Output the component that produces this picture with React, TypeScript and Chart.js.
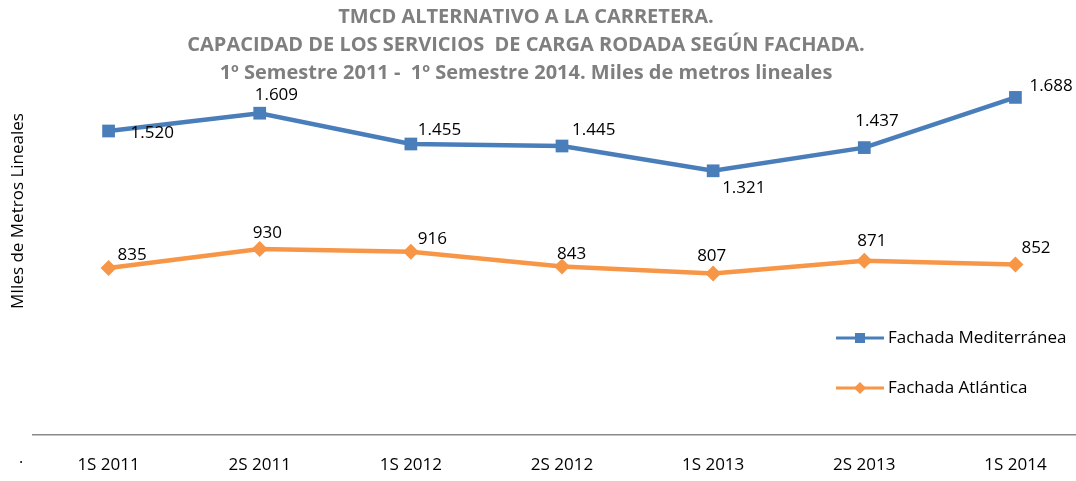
import React, { useEffect, useRef } from "react";
import { Chart, registerables } from "chart.js";

Chart.register(...registerables);

const categories = ["1S 2011", "2S 2011", "1S 2012", "2S 2012", "1S 2013", "2S 2013", "1S 2014"];
const mediterranea = [1520, 1609, 1455, 1445, 1321, 1437, 1688];
const atlantica = [835, 930, 916, 843, 807, 871, 852];
const seriesNames = ["Fachada Mediterránea", "Fachada Atlántica"];
const titleLines = [
  "TMCD ALTERNATIVO A LA CARRETERA.",
  "CAPACIDAD DE LOS SERVICIOS  DE CARGA RODADA SEGÚN FACHADA.",
  "1º Semestre 2011 -  1º Semestre 2014. Miles de metros lineales",
];
const yAxisTitle = "MIles de Metros Lineales";

// label offsets (dx = left edge relative to point, dy = center relative to point)
const medLabelOffsets = [[22, 2], [-5, -18], [7, -14], [10, -16], [9, 17], [-9, -26], [14, -11]];
const atlLabelOffsets = [[9, -13], [-7, -16], [7, -13], [-5, -12], [-16, -17], [-7, -20], [6, -16]];

const BLUE = "#4a7ebb";
const ORANGE = "#f79646";
const FONT = "'Open Sans', sans-serif";

function fmt(v: number) {
  const s = String(v);
  if (v >= 1000) return s.slice(0, s.length - 3) + "." + s.slice(s.length - 3);
  return s;
}

const decorPlugin = {
  id: "decor",
  afterDatasetsDraw(chart: any) {
    const ctx = chart.ctx as CanvasRenderingContext2D;
    const xs = chart.scales.x;
    const ys = chart.scales.y;
    ctx.save();
    // title
    ctx.fillStyle = "#7f7f7f";
    ctx.textAlign = "center";
    ctx.textBaseline = "middle";
    ctx.font = `bold 20px ${FONT}`;
    const tys = [17, 45, 73];
    titleLines.forEach((t, i) => ctx.fillText(t, 526, tys[i]));

    // data labels
    ctx.fillStyle = "#000";
    ctx.font = `17px ${FONT}`;
    ctx.textAlign = "left";
    const drawLabels = (data: number[], offs: number[][]) => {
      data.forEach((v, i) => {
        const px = xs.getPixelForValue(i);
        const py = ys.getPixelForValue(v);
        ctx.fillText(fmt(v), px + offs[i][0], py + offs[i][1]);
      });
    };
    drawLabels(mediterranea, medLabelOffsets);
    drawLabels(atlantica, atlLabelOffsets);

    // y axis title
    ctx.save();
    ctx.translate(18, 211);
    ctx.rotate(-Math.PI / 2);
    ctx.textAlign = "center";
    ctx.font = `17px ${FONT}`;
    ctx.fillText(yAxisTitle, 0, 0);
    ctx.restore();

    // dot
    ctx.font = `16px ${FONT}`;
    ctx.fillText(".", 19, 458);

    // legend
    const legY = [338, 388];
    [BLUE, ORANGE].forEach((c, i) => {
      const y = legY[i];
      ctx.strokeStyle = c;
      ctx.lineWidth = 3;
      ctx.beginPath();
      ctx.moveTo(836, y);
      ctx.lineTo(884, y);
      ctx.stroke();
      ctx.fillStyle = c;
      if (i === 0) {
        ctx.fillRect(855, y - 5, 10, 10);
      } else {
        ctx.beginPath();
        ctx.moveTo(860, y - 6);
        ctx.lineTo(866, y);
        ctx.lineTo(860, y + 6);
        ctx.lineTo(854, y);
        ctx.closePath();
        ctx.fill();
      }
      ctx.fillStyle = "#000";
      ctx.font = `17px ${FONT}`;
      ctx.textAlign = "left";
      ctx.fillText(seriesNames[i], 888, y);
    });
    ctx.restore();
  },
};

export default function App() {
  const ref = useRef<HTMLCanvasElement>(null);
  useEffect(() => {
    if (!ref.current) return;
    const chart = new Chart(ref.current, {
      type: "line",
      data: {
        labels: categories,
        datasets: [
          {
            label: seriesNames[0],
            data: mediterranea,
            borderColor: BLUE,
            backgroundColor: BLUE,
            borderWidth: 4.5,
            pointStyle: "rect",
            pointRadius: 9,
            pointBorderWidth: 0,
            tension: 0,
          },
          {
            label: seriesNames[1],
            data: atlantica,
            borderColor: ORANGE,
            backgroundColor: ORANGE,
            borderWidth: 4.5,
            pointStyle: "rectRot",
            pointRadius: 8,
            pointBorderWidth: 0,
            tension: 0,
          },
        ],
      },
      options: {
        animation: false,
        responsive: false,
        maintainAspectRatio: false,
        layout: { padding: { left: 33, right: 8, top: 35, bottom: 0 } },
        plugins: { legend: { display: false }, title: { display: false }, tooltip: { enabled: false } },
        scales: {
          x: {
            offset: true,
            grid: { display: false, drawTicks: false },
            border: { display: true, color: "#898989", width: 1.5 },
            ticks: { color: "#000", font: { family: "'Open Sans', sans-serif", size: 17 }, padding: 20, maxRotation: 0 },
            afterFit: (scale: any) => {
              scale.height = 46;
            },
          },
          y: { display: false, min: 0, max: 2000 },
        },
      },
      plugins: [decorPlugin],
    });
    return () => chart.destroy();
  }, []);
  return (
    <div style={{ position: "absolute", left: 0, top: 0, width: 1076, height: 481, overflow: "hidden", background: "#fff" }}>
      <canvas ref={ref} width={1100} height={481} style={{ width: 1100, height: 481, display: "block" }} />
    </div>
  );
}
